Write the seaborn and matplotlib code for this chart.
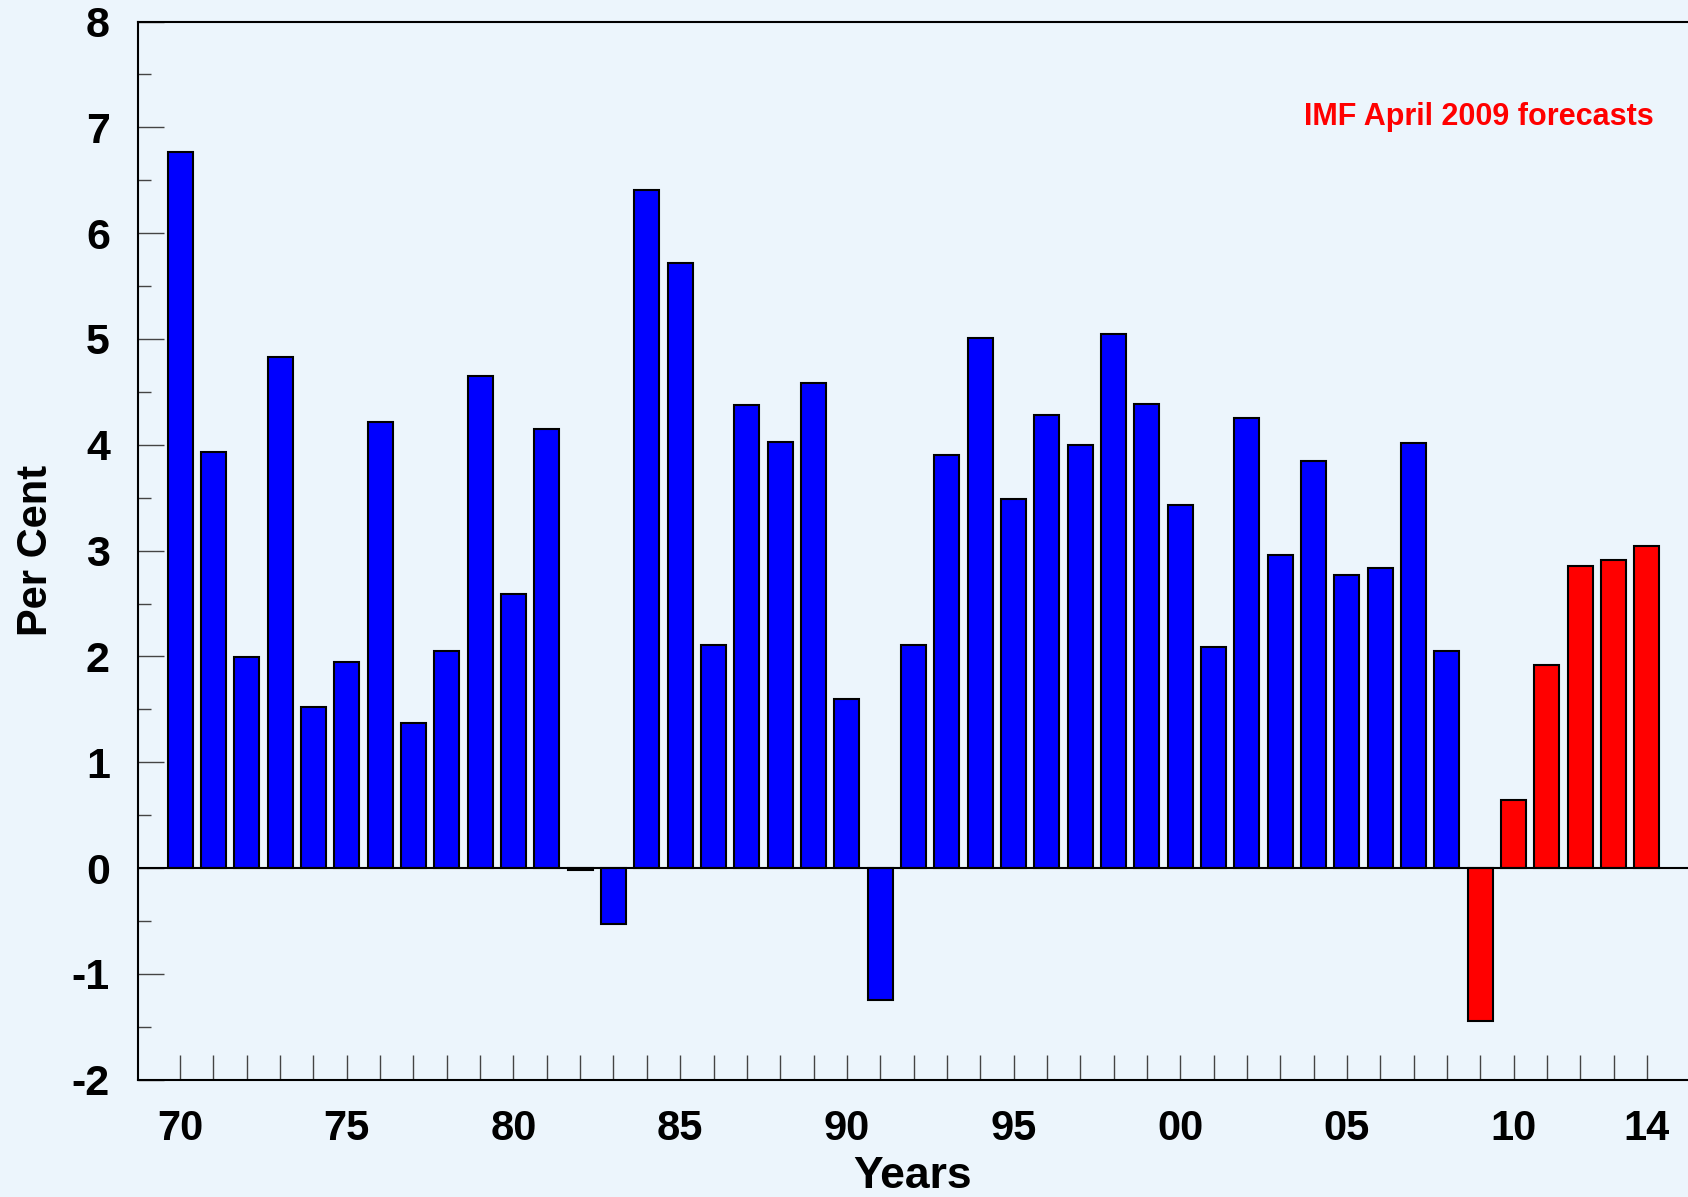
import numpy as np
import pandas as pd
import seaborn as sns
import matplotlib.pyplot as plt
from matplotlib.ticker import MultipleLocator

# growth, per cent, 1970-2008 actual, 2009-2014 IMF forecasts
years = list(range(1970, 2015))
actual = [6.77, 3.93, 1.99, 4.83, 1.52, 1.95, 4.22, 1.37, 2.05, 4.65,
          2.59, 4.15, -0.02, -0.53, 6.41, 5.72, 2.11, 4.38, 4.03, 4.58,
          1.60, -1.25, 2.11, 3.90, 5.01, 3.49, 4.28, 4.00, 5.05, 4.39,
          3.43, 2.09, 4.25, 2.96, 3.85, 2.77, 2.84, 4.02, 2.05]
forecast = [-1.45, 0.64, 1.92, 2.85, 2.91, 3.04]
label_years = [1970, 1975, 1980, 1985, 1990, 1995, 2000, 2005, 2010, 2014]
label_text = ['70', '75', '80', '85', '90', '95', '00', '05', '10', '14']

df = pd.DataFrame({
    'year': years,
    'value': actual + forecast,
    'kind': ['actual'] * len(actual) + ['forecast'] * len(forecast),
})

bg = '#ecf5fc'
sns.set_style('white')
plt.rcParams['font.family'] = ['Liberation Sans', 'DejaVu Sans']
plt.rcParams['font.weight'] = 'bold'
plt.rcParams['axes.unicode_minus'] = False
plt.rcParams['text.color'] = 'black'
plt.rcParams['axes.labelcolor'] = 'black'
plt.rcParams['xtick.color'] = 'black'
plt.rcParams['ytick.color'] = 'black'

fig = plt.figure(figsize=(16.88, 11.97), dpi=100, facecolor=bg)
ax = fig.add_axes([0.0816, 0.098, 0.9184, 0.884])
ax.set_facecolor(bg)

sns.barplot(data=df, x='year', y='value', hue='kind',
            palette={'actual': '#0000ff', 'forecast': '#ff0000'},
            saturation=1, dodge=False, width=0.75, edgecolor='black',
            linewidth=1.5, legend=False, ax=ax)

ax.axhline(0, color='black', lw=1.5, zorder=3)

ax.set_ylim(-2, 8)
ax.set_xlim(-1.27, len(years) - 1 + 1.23)
ax.yaxis.set_major_locator(MultipleLocator(1))
ax.yaxis.set_minor_locator(MultipleLocator(0.5))

pos = list(range(len(years)))
labels = [label_text[label_years.index(y)] if y in label_years else '' for y in years]
ax.set_xticks(pos, labels)

ax.tick_params(axis='x', which='major', direction='in', length=18, width=1,
               color='#444444', labelcolor='black', labelsize=30, pad=21,
               bottom=True)
ax.tick_params(axis='y', which='major', direction='in', length=19, width=1,
               color='#444444', labelcolor='black', labelsize=31, pad=20,
               left=True)
ax.tick_params(axis='y', which='minor', direction='in', length=9.5, width=1,
               color='#444444', left=True)
for lab in ax.get_xticklabels() + ax.get_yticklabels():
    lab.set_fontweight('bold')

for s in ['left', 'top', 'bottom']:
    ax.spines[s].set_visible(True)
    ax.spines[s].set_linewidth(1.5)
    ax.spines[s].set_color('black')
ax.spines['right'].set_visible(False)

ax.set_xlabel('Years', fontsize=32, fontweight='bold', color='black', labelpad=5)
ax.set_ylabel('Per Cent', fontsize=30, fontweight='bold', color='black', labelpad=11)

ax.text(44.2, 7.1, 'IMF April 2009 forecasts', color='#ff0000',
        fontsize=22, fontweight='bold', ha='right', va='center')

fig.savefig('out.png', dpi=100, facecolor=bg)
